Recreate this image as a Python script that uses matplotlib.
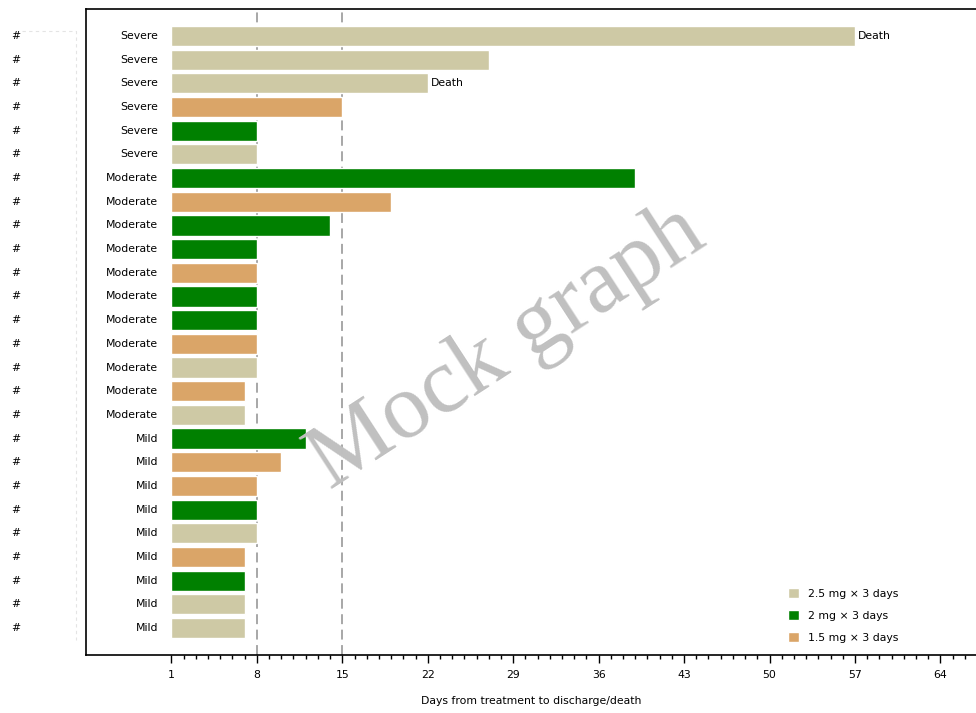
import matplotlib
matplotlib.use('Agg')
import matplotlib.pyplot as plt
from matplotlib.patches import Patch
from matplotlib.lines import Line2D
from matplotlib.transforms import blended_transform_factory
from matplotlib.ticker import MultipleLocator
import numpy as np

# one row per patient, top to bottom
severity = ['Severe'] * 6 + ['Moderate'] * 11 + ['Mild'] * 9
days = [57, 27, 22, 15, 8, 8,
        39, 19, 14, 8, 8, 8, 8, 8, 8, 7, 7,
        12, 10, 8, 8, 8, 7, 7, 7, 7]
dose = ['2.5', '2.5', '2.5', '1.5', '2', '2.5',
        '2', '1.5', '2', '2', '1.5', '2', '2', '1.5', '2.5', '1.5', '2.5',
        '2', '1.5', '1.5', '2', '2.5', '1.5', '2', '2.5', '2.5']
death = [True, False, True] + [False] * 23

dose_labels = ['2.5', '2', '1.5']
dose_colors = {'2.5': '#CEC9A5', '2': '#008000', '1.5': '#DAA568'}
xticks = [1, 8, 15, 22, 29, 36, 43, 50, 57, 64]
ref_days = [8, 15]

FS = 7.8
plt.rcParams['font.family'] = ['DejaVu Sans']

fig = plt.figure(figsize=(9.76, 7.13), dpi=100)
ax = fig.add_axes([86 / 976, 1 - 655 / 713, 891 / 976, 646 / 713])

y = np.arange(len(days))
start = 1
ax.barh(y, np.array(days) - start, left=start, height=0.85,
        color=[dose_colors[d] for d in dose], edgecolor='white', linewidth=1, zorder=2)

for yi, d, dead in zip(y, days, death):
    if dead:
        ax.text(d + 0.25, yi, 'Death', va='center', ha='left', fontsize=FS)

# id column on the far left, outside the axes
id_trans = blended_transform_factory(fig.transFigure, ax.transData)
for yi, s in zip(y, severity):
    ax.text(-0.1, yi, s, va='center', ha='right', fontsize=FS)
    ax.text(16 / 976, yi, '#', va='center', ha='center', fontsize=FS, transform=id_trans)

# faint leftover box round the id column
fig.add_artist(Line2D([22 / 976, 76 / 976, 76 / 976],
                      [1 - 31 / 713, 1 - 31 / 713, 1 - 640 / 713],
                      transform=fig.transFigure, color='#e4e4e4', lw=0.8,
                      dashes=(3, 3)))

for r in ref_days:
    ax.axvline(r, color='#909090', linewidth=1.1, dashes=(6.5, 3.6), zorder=1)

ax.set_xlim(-6, 67)
ax.set_ylim(len(days) - 1 + 1.14, -1.14)
ax.set_xticks(xticks)
ax.xaxis.set_minor_locator(MultipleLocator(1))
ax.set_xticks(np.arange(1, 67), minor=True)
ax.tick_params(axis='x', which='major', length=6, width=1, pad=5, labelsize=FS)
ax.tick_params(axis='x', which='minor', length=3, width=1)
ax.set_yticks([])
ax.spines['right'].set_visible(False)
for s in ['top', 'left', 'bottom']:
    ax.spines[s].set_linewidth(1.2)
ax.set_xlabel('Days from treatment to discharge/death', fontsize=FS, labelpad=11)

handles = [Patch(facecolor=dose_colors[d], edgecolor='white', label=f'{d} mg \u00d7 3 days')
           for d in dose_labels]
fig.legend(handles=handles, loc='upper left', bbox_to_anchor=(788 / 976, 1 - 588 / 713),
           bbox_transform=fig.transFigure, frameon=False, fontsize=FS,
           handlelength=1.05, handleheight=1.05, handletextpad=0.75,
           labelspacing=1.05, borderpad=0, borderaxespad=0)

fig.text(507 / 976, 1 - 348 / 713, 'Mock graph', rotation=33, ha='center', va='center',
         fontsize=67, color='#c0c0c0', family=['Liberation Serif', 'DejaVu Serif'],
         zorder=10)

fig.savefig('out.png', dpi=100)
